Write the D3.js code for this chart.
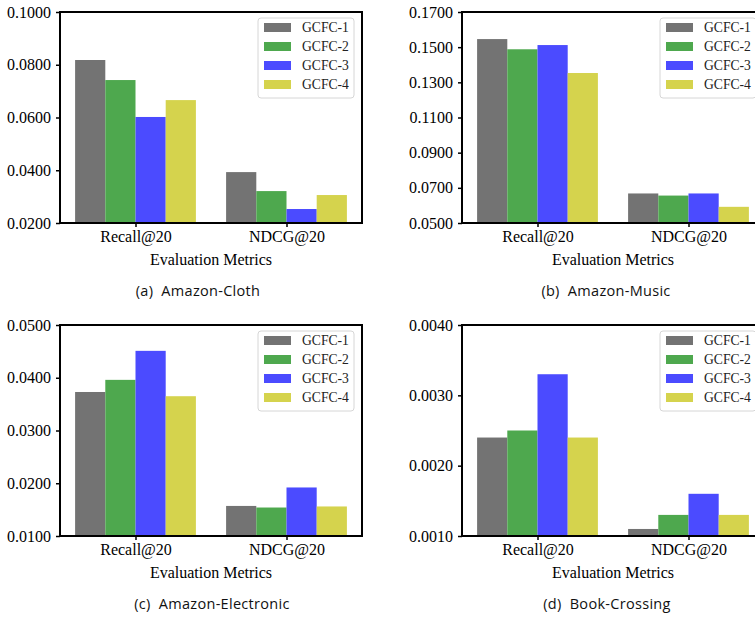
<!DOCTYPE html>
<html>
<head>
<meta charset="utf-8">
<script src="https://cdn.jsdelivr.net/npm/d3@7/dist/d3.min.js"></script>
<style>
  html, body { margin: 0; padding: 0; background: #fff; }
  svg { display: block; overflow: hidden; }
  .caption { white-space: pre; }
</style>
</head>
<body>
<div id="chart"></div>
<script>
// categories / series
const metrics = ['Recall@20', 'NDCG@20'];
const variants = ['GCFC-1', 'GCFC-2', 'GCFC-3', 'GCFC-4'];
const colors = ['#737373', '#4ea84e', '#4b4bff', '#d5d34d'];

// values, one array per metric: [GCFC-1..GCFC-4]
const clothRecall = [0.0818, 0.0742, 0.0602, 0.0666];
const clothNdcg = [0.0393, 0.0321, 0.0253, 0.0306];
const musicRecall = [0.1546, 0.1488, 0.1512, 0.1353];
const musicNdcg = [0.0668, 0.0656, 0.0668, 0.0592];
const electronicRecall = [0.0373, 0.0396, 0.0451, 0.0365];
const electronicNdcg = [0.0157, 0.0154, 0.0192, 0.0156];
const bookRecall = [0.0024, 0.0025, 0.0033, 0.0024];
const bookNdcg = [0.0011, 0.0013, 0.0016, 0.0013];

// tick labels for y axes
const clothTicks = [0.02, 0.04, 0.06, 0.08, 0.10];
const musicTicks = [0.05, 0.07, 0.09, 0.11, 0.13, 0.15, 0.17];
const electronicTicks = [0.01, 0.02, 0.03, 0.04, 0.05];
const bookTicks = [0.001, 0.002, 0.003, 0.004];

const captions = ['(a)  Amazon-Cloth', '(b)  Amazon-Music', '(c)  Amazon-Electronic', '(d)  Book-Crossing'];

const W = 755, H = 617;
const serif = '"Liberation Serif", "Times New Roman", serif';

const svg = d3.select('#chart').append('svg')
  .attr('width', W)
  .attr('height', H);

const panels = [
  { left: 60, top: 12, recall: clothRecall, ndcg: clothNdcg, ticks: clothTicks, caption: captions[0], capX: 198, capY: 296 },
  { left: 462, top: 12, recall: musicRecall, ndcg: musicNdcg, ticks: musicTicks, caption: captions[1], capX: 606, capY: 296 },
  { left: 60, top: 325, recall: electronicRecall, ndcg: electronicNdcg, ticks: electronicTicks, caption: captions[2], capX: 212, capY: 609 },
  { left: 462, top: 325, recall: bookRecall, ndcg: bookNdcg, ticks: bookTicks, caption: captions[3], capX: 607, capY: 609 }
];

const plotW = 302; // axes width
const plotH = 211; // axes height
const barW = 0.2;

panels.forEach(p => {
  const g = svg.append('g').attr('transform', `translate(${p.left},${p.top})`);

  const x = d3.scaleLinear().domain([-0.5, 1.5]).range([0, plotW]);
  const y = d3.scaleLinear()
    .domain([p.ticks[0], p.ticks[p.ticks.length - 1]])
    .range([plotH, 0]);

  const rows = [];
  [p.recall, p.ndcg].forEach((vals, i) => {
    vals.forEach((v, j) => rows.push({ cat: i, s: j, v: v }));
  });

  g.selectAll('rect.bar')
    .data(rows)
    .enter().append('rect')
    .attr('class', 'bar')
    .attr('x', d => x(d.cat + (d.s - 1.5) * barW - barW / 2))
    .attr('width', d => x(barW) - x(0))
    .attr('y', d => y(d.v))
    .attr('height', d => y(p.ticks[0]) - y(d.v))
    .attr('fill', d => colors[d.s]);

  // y axis
  const yAxis = g.append('g')
    .call(d3.axisLeft(y).tickValues(p.ticks).tickFormat(d3.format('.4f')).tickSize(4).tickPadding(5));
  yAxis.select('.domain').remove();
  yAxis.selectAll('line').attr('stroke', '#000').attr('stroke-width', 1.5);
  yAxis.selectAll('text')
    .attr('font-family', serif)
    .attr('font-size', 16)
    .attr('fill', '#000');

  // x axis
  const xAxis = g.append('g')
    .attr('transform', `translate(0,${plotH})`)
    .call(d3.axisBottom(x).tickValues([0, 1]).tickFormat((d, i) => metrics[i]).tickSize(4).tickPadding(4));
  xAxis.select('.domain').remove();
  xAxis.selectAll('line').attr('stroke', '#000').attr('stroke-width', 1.5);
  xAxis.selectAll('text')
    .attr('font-family', serif)
    .attr('font-size', 16)
    .attr('fill', '#000');

  // frame
  g.append('rect')
    .attr('x', 0).attr('y', 0)
    .attr('width', plotW).attr('height', plotH)
    .attr('fill', 'none')
    .attr('stroke', '#000')
    .attr('stroke-width', 2);

  g.append('text')
    .attr('x', plotW / 2)
    .attr('y', 253)
    .attr('text-anchor', 'middle')
    .attr('font-family', serif)
    .attr('font-size', 16)
    .text('Evaluation Metrics');

  // legend
  const lg = g.append('g').attr('transform', `translate(${plotW - 104},6)`);
  lg.append('rect')
    .attr('width', 96).attr('height', 80)
    .attr('rx', 3)
    .attr('fill', '#fff')
    .attr('stroke', '#d6d6d6');
  variants.forEach((name, j) => {
    lg.append('rect')
      .attr('x', 6).attr('y', 5 + j * 19)
      .attr('width', 27).attr('height', 9)
      .attr('fill', colors[j]);
    lg.append('text')
      .attr('x', 44).attr('y', 14 + j * 19)
      .attr('font-family', serif)
      .attr('font-size', 13.6)
      .attr('fill', '#222')
      .text(name);
  });

  svg.append('text')
    .attr('class', 'caption')
    .attr('x', p.capX)
    .attr('y', p.capY)
    .attr('text-anchor', 'middle')
    .attr('font-family', '"Open Sans", sans-serif')
    .attr('font-size', 14.5)
    .attr('letter-spacing', 0.3)
    .attr('fill', '#111')
    .text(p.caption);
});
</script>
</body>
</html>
